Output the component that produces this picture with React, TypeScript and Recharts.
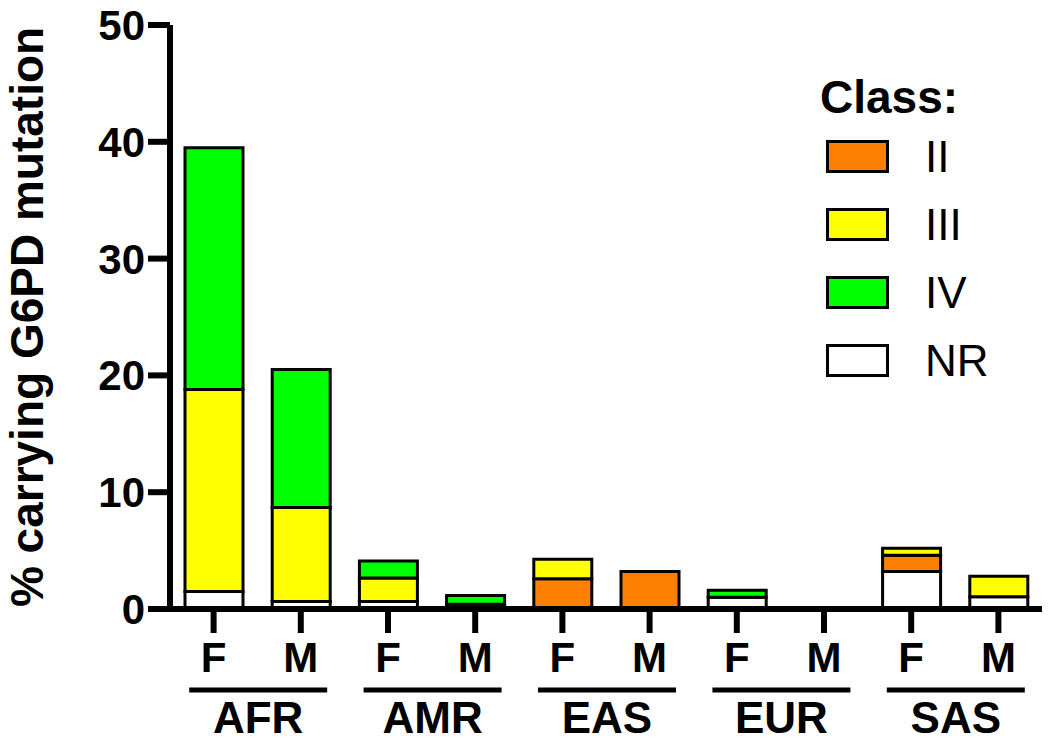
import React from "react";
import { BarChart, Bar, XAxis, YAxis, Legend, Label } from "recharts";

const REGIONS = ["AFR", "AFR", "AMR", "AMR", "EAS", "EAS", "EUR", "EUR", "SAS", "SAS"];
const SEXES = ["F", "M", "F", "M", "F", "M", "F", "M", "F", "M"];
const NR = [1.5, 0.65, 0.65, 0.4, 0, 0, 1.0, 0, 3.2, 1.05];
const II = [0, 0, 0, 0, 2.6, 3.2, 0, 0, 1.4, 0];
const III = [17.3, 8.05, 2.0, 0, 1.65, 0, 0, 0, 0.6, 1.75];
const IV = [20.7, 11.8, 1.45, 0.75, 0, 0, 0.6, 0, 0, 0];
const Y_TICKS = [0, 10, 20, 30, 40, 50];

const CLASS_KEYS = ["II", "III", "IV", "NR"];
const CLASS_COLORS: Record<string, string> = {
  II: "#FF8000",
  III: "#FFFF00",
  IV: "#00FF00",
  NR: "#FFFFFF",
};

const data = SEXES.map((s, i) => ({
  key: `${REGIONS[i]}-${s}`,
  region: REGIONS[i],
  sex: s,
  NR: NR[i],
  II: II[i],
  III: III[i],
  IV: IV[i],
}));

const FONT = "'Liberation Sans', Arial, sans-serif";

const YLabelContent = (props: any) => {
  const vb = props.viewBox || {};
  const cy = (vb.y || 0) + (vb.height || 0) / 2;
  const x = 43;
  return (
    <text
      x={x}
      y={cy}
      transform={`rotate(-90, ${x}, ${cy})`}
      textAnchor="middle"
      fontSize={46}
      fontWeight="bold"
      fill="#000"
      fontFamily={FONT}
    >
      % carrying G6PD mutation
    </text>
  );
};

const RegionTick = (props: any) => {
  const { x, y, payload } = props;
  return (
    <g>
      <line x1={x - 68} x2={x + 70} y1={y + 11} y2={y + 11} stroke="#000" strokeWidth={5} />
      <text
        x={x + 1}
        y={y + 54}
        textAnchor="middle"
        fontSize={44}
        fontWeight="bold"
        fill="#000"
        fontFamily={FONT}
      >
        {payload.value}
      </text>
    </g>
  );
};

const LegendContent = () => (
  <div style={{ fontFamily: FONT, color: "#000" }}>
    <div style={{ fontSize: 46, fontWeight: "bold", lineHeight: "46px", height: 48.5 }}>Class:</div>
    {CLASS_KEYS.map((k) => (
      <div key={k} style={{ display: "flex", alignItems: "center", height: 68 }}>
        <div
          style={{
            width: 63,
            height: 33,
            boxSizing: "border-box",
            border: "3px solid #000",
            background: CLASS_COLORS[k],
            marginLeft: 6,
          }}
        />
        <div style={{ fontSize: 44, lineHeight: "44px", marginLeft: 36 }}>{k}</div>
      </div>
    ))}
  </div>
);

export default function App() {
  return (
    <div style={{ position: "absolute", left: 0, top: 0, fontFamily: FONT, background: "#fff" }}>
      <BarChart
        width={1050}
        height={746}
        data={data}
        margin={{ top: 25, right: 8, bottom: 0, left: 0 }}
        barSize={58}
      >
        {["NR", "II", "III", "IV"].map((k) => (
          <Bar
            key={k}
            dataKey={k}
            stackId="a"
            xAxisId="a1"
            fill={CLASS_COLORS[k]}
            stroke="#000"
            strokeWidth={3}
            isAnimationActive={false}
          />
        ))}
        <YAxis
          width={170}
          domain={[0, 50]}
          ticks={Y_TICKS}
          interval={0}
          axisLine={{ stroke: "#000", strokeWidth: 6 }}
          tickLine={{ stroke: "#000", strokeWidth: 6 }}
          tickSize={22}
          tickMargin={3}
          tick={{ fontSize: 42, fontWeight: "bold", fill: "#000" }}
        >
          <Label content={YLabelContent} />
        </YAxis>
        <XAxis
          xAxisId="b2"
          dataKey="region"
          allowDuplicatedCategory={false}
          height={67}
          interval={0}
          axisLine={false}
          tickLine={false}
          tickSize={0}
          tickMargin={0}
          tick={RegionTick}
        />
        <XAxis
          xAxisId="a1"
          dataKey="key"
          height={70}
          interval={0}
          tickFormatter={(v: string) => v.split("-")[1]}
          axisLine={{ stroke: "#000", strokeWidth: 6 }}
          tickLine={{ stroke: "#000", strokeWidth: 6 }}
          tickSize={24}
          tickMargin={9}
          tick={{ fontSize: 42, fontWeight: "bold", fill: "#000" }}
        />
        <Legend
          layout="vertical"
          align="center"
          verticalAlign="middle"
          content={LegendContent}
          wrapperStyle={{ top: 74, left: 820, width: 220 }}
        />
      </BarChart>
    </div>
  );
}
